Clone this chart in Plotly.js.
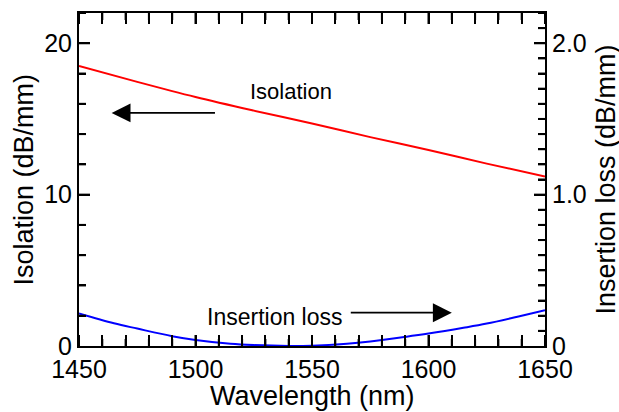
<!DOCTYPE html>
<html>
<head>
<meta charset="utf-8">
<script src="https://cdn.plot.ly/plotly-3.0.1.min.js"></script>
<style>
html,body{margin:0;padding:0;background:#fff;}
#chart{width:619px;height:412px;}
</style>
</head>
<body>
<div id="chart"></div>
<script>
// Data
var wavelength = [1450, 1475, 1500, 1525, 1550, 1575, 1600, 1625, 1650];
var isolation = [18.5, 17.45, 16.45, 15.55, 14.7, 13.8, 12.95, 12.05, 11.2];
var lossWavelength = [1450, 1465, 1475, 1490, 1500, 1515, 1525, 1540, 1550, 1565, 1575, 1590, 1600, 1615, 1625, 1640, 1650];
var insertionLoss = [0.215, 0.15, 0.115, 0.065, 0.04, 0.015, 0.006, 0.0, 0.002, 0.015, 0.03, 0.06, 0.082, 0.12, 0.148, 0.2, 0.236];
var xTickVals = [1450, 1500, 1550, 1600, 1650];
var yTickVals = [0, 10, 20];
var y2TickVals = [0, 1, 2];
var y2TickText = ['0', '1.0', '2.0'];
var xMinorStep = 10, yMinorStep = 2, y2MinorStep = 0.1;
var labelIsolation = 'Isolation';
var labelLoss = 'Insertion loss';
var titleX = 'Wavelength (nm)';
var titleY = 'Isolation (dB/mm)';
var titleY2 = 'Insertion loss (dB/mm)';

var FONT = 'Liberation Sans, Arial, Helvetica, sans-serif';
var X_RANGE = [1450, 1650], Y_RANGE = [0, 22], Y2_RANGE = [0, 2.2];
var MAJOR = 11, MINOR = 7;

var traces = [
  {x: wavelength, y: isolation, type: 'scatter', mode: 'lines', line: {color: '#ff0000', width: 2, shape: 'spline'}, yaxis: 'y', showlegend: false, hoverinfo: 'skip'},
  {x: lossWavelength, y: insertionLoss, type: 'scatter', mode: 'lines', line: {color: '#0000ff', width: 2, shape: 'spline'}, yaxis: 'y2', showlegend: false, hoverinfo: 'skip'}
];

var axisCommon = {
  showgrid: false, zeroline: false, showline: true, linecolor: '#000', linewidth: 2,
  ticks: 'inside', ticklen: MAJOR, tickwidth: 2, tickcolor: '#000',
  tickfont: {family: FONT, size: 25, color: '#000'}, automargin: false
};
function minorTicks(d, t0) {
  return {tickmode: 'linear', dtick: d, tick0: t0, ticks: 'inside', ticklen: MINOR, tickwidth: 2, tickcolor: '#000', showgrid: false};
}

// Tick marks also drawn as pixel-sized shapes anchored to the axes' own scales
var shapes = [];
var tickLine = {color: '#000', width: 2};
function xTick(v, len) {
  shapes.push({type: 'line', layer: 'above', xref: 'x', yref: 'paper', ysizemode: 'pixel', yanchor: 0, x0: v, x1: v, y0: 0, y1: len, line: tickLine});
  shapes.push({type: 'line', layer: 'above', xref: 'x', yref: 'paper', ysizemode: 'pixel', yanchor: 1, x0: v, x1: v, y0: 0, y1: -len, line: tickLine});
}
function yTick(v, len, ref, side) {
  shapes.push({type: 'line', layer: 'above', xref: 'paper', yref: ref, xsizemode: 'pixel', xanchor: side, x0: 0, x1: side === 0 ? len : -len, y0: v, y1: v, line: tickLine});
}
function isMajor(v, list) {
  for (var i = 0; i < list.length; i++) { if (Math.abs(list[i] - v) < 1e-9) return true; }
  return false;
}
var n, v;
n = Math.round((X_RANGE[1] - X_RANGE[0]) / xMinorStep);
for (var i = 0; i <= n; i++) { v = X_RANGE[0] + i * xMinorStep; xTick(v, isMajor(v, xTickVals) ? MAJOR : MINOR); }
n = Math.floor((Y_RANGE[1] - Y_RANGE[0]) / yMinorStep + 1e-9);
for (var j = 1; j <= n; j++) { v = Y_RANGE[0] + j * yMinorStep; yTick(v, isMajor(v, yTickVals) ? MAJOR : MINOR, 'y', 0); }
n = Math.floor((Y2_RANGE[1] - Y2_RANGE[0]) / y2MinorStep + 1e-9);
for (var k = 1; k <= n; k++) { v = Math.round((Y2_RANGE[0] + k * y2MinorStep) * 10) / 10; yTick(v, isMajor(v, y2TickVals) ? MAJOR : MINOR, 'y2', 1); }

var tFont = {family: FONT, size: 27, color: '#000'};
var layout = {
  width: 619, height: 412,
  margin: {l: 79, r: 74, t: 13, b: 66, pad: 0},
  paper_bgcolor: '#fff', plot_bgcolor: '#fff',
  font: {family: FONT, color: '#000'},
  xaxis: Object.assign({}, axisCommon, {range: X_RANGE, tickmode: 'linear', tick0: xTickVals[0], dtick: xTickVals[1] - xTickVals[0], mirror: 'allticks', minor: minorTicks(xMinorStep, xTickVals[0])}),
  yaxis: Object.assign({}, axisCommon, {range: Y_RANGE, tickmode: 'linear', tick0: yTickVals[0], dtick: yTickVals[1] - yTickVals[0], minor: minorTicks(yMinorStep, 0)}),
  yaxis2: Object.assign({}, axisCommon, {range: Y2_RANGE, overlaying: 'y', side: 'right', anchor: 'x', tickmode: 'array', tickvals: y2TickVals, ticktext: y2TickText, minor: minorTicks(y2MinorStep, 0)}),
  shapes: shapes,
  annotations: [
    {text: titleX, xref: 'paper', yref: 'paper', x: 0.5, y: 0, xanchor: 'center', yanchor: 'middle', yshift: -50, showarrow: false, font: tFont},
    {text: titleY, xref: 'paper', yref: 'paper', x: 0, y: 0.5, xanchor: 'center', yanchor: 'middle', xshift: -56, textangle: -90, showarrow: false, font: tFont},
    {text: titleY2, xref: 'paper', yref: 'paper', x: 1, y: 0.5, xanchor: 'center', yanchor: 'middle', xshift: 60, textangle: -90, showarrow: false, font: tFont},
    {x: 1541, y: 16.8, xref: 'x', yref: 'y', text: labelIsolation, showarrow: false, font: {family: FONT, size: 22, color: '#000'}, xanchor: 'center', yanchor: 'middle'},
    {x: 1534, y: 1.9, xref: 'x', yref: 'y', text: labelLoss, showarrow: false, font: {family: FONT, size: 23, color: '#000'}, xanchor: 'center', yanchor: 'middle'},
    {x: 1464, y: 15.4, ax: 1509, ay: 15.4, xref: 'x', yref: 'y', axref: 'x', ayref: 'y', text: '', showarrow: true, arrowhead: 2, arrowsize: 2.1, arrowwidth: 1.8, arrowcolor: '#000'},
    {x: 1610, y: 2.2, ax: 1566, ay: 2.2, xref: 'x', yref: 'y', axref: 'x', ayref: 'y', text: '', showarrow: true, arrowhead: 2, arrowsize: 2.1, arrowwidth: 1.8, arrowcolor: '#000'}
  ]
};

Plotly.newPlot('chart', traces, layout, {staticPlot: true, displayModeBar: false}).then(function (gd) {
  gd.setAttribute('data-ready', '1');
});
</script>
</body>
</html>
